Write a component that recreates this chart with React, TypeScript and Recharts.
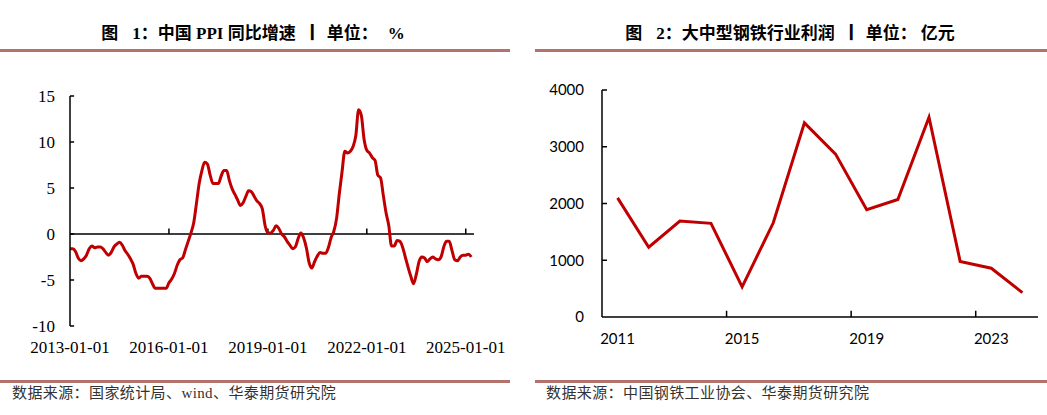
import { LineChart, Line, XAxis, YAxis, ReferenceLine } from "recharts";

// 图1: 中国 PPI 同比 (%), monthly from 2013-01
const PPI_START_YEAR = 2013;
const ppiValues = [
  // 2013
  -1.6, -1.6, -1.9, -2.6, -2.9, -2.7, -2.3, -1.6, -1.3, -1.5, -1.4, -1.4,
  // 2014
  -1.6, -2.0, -2.3, -2.0, -1.4, -1.1, -0.9, -1.2, -1.8, -2.2, -2.7, -3.3,
  // 2015
  -4.3, -4.8, -4.6, -4.6, -4.6, -4.8, -5.4, -5.9, -5.9, -5.9, -5.9, -5.9,
  // 2016
  -5.3, -4.9, -4.3, -3.4, -2.8, -2.6, -1.7, -0.8, 0.1, 1.2, 3.3, 5.5,
  // 2017
  6.9, 7.8, 7.6, 6.4, 5.5, 5.5, 5.5, 6.3, 6.9, 6.9, 5.8, 4.9,
  // 2018
  4.3, 3.7, 3.1, 3.4, 4.1, 4.7, 4.6, 4.1, 3.6, 3.3, 2.7, 0.9,
  // 2019
  0.1, 0.1, 0.4, 0.9, 0.6, 0.0, -0.3, -0.8, -1.2, -1.6, -1.4, -0.5,
  // 2020
  0.1, -0.4, -1.5, -3.1, -3.7, -3.0, -2.4, -2.0, -2.1, -2.1, -1.5, -0.4,
  // 2021
  0.3, 1.7, 4.4, 6.8, 9.0, 8.8, 9.0, 9.5, 10.7, 13.5, 12.9, 10.3,
  // 2022
  9.1, 8.8, 8.3, 8.0, 6.4, 6.1, 4.2, 2.3, 0.9, -1.3, -1.3, -0.7,
  // 2023
  -0.8, -1.4, -2.5, -3.6, -4.6, -5.4, -4.4, -3.0, -2.5, -2.6, -3.0, -2.7,
  // 2024
  -2.5, -2.7, -2.8, -2.5, -1.4, -0.8, -0.8, -1.8, -2.8, -2.9, -2.5, -2.3,
  // 2025
  -2.3, -2.2, -2.5,
];
const ppiTickMonths = [0, 36, 72, 108, 144];
const ppiYTicks = [-10, -5, 0, 5, 10, 15];

// 图2: 大中型钢铁行业利润 (亿元)
const steelYears = [
  2011, 2012, 2013, 2014, 2015, 2016, 2017, 2018, 2019, 2020, 2021, 2022, 2023,
  2024,
];
const steelProfit = [
  2100, 1230, 1690, 1650, 530, 1660, 3420, 2870, 1890, 2070, 3520, 980, 860,
  430,
];
const steelLabelYears = [2011, 2015, 2019, 2023];
const steelYTicks = [0, 1000, 2000, 3000, 4000];

const RED = "#C00000";
const RULE = "#B4726C";
const SERIF = '"Liberation Serif", "Noto Sans CJK SC", serif';

const monthLabel = (i: number) => {
  const y = PPI_START_YEAR + Math.floor(i / 12);
  const m = (i % 12) + 1;
  return `${y}-${m < 10 ? "0" + m : m}-01`;
};

const ppiData = ppiValues.map((v, i) => ({ i, v }));
const steelData = steelYears.map((year, i) => ({
  pos: i + 0.5,
  year,
  profit: steelProfit[i],
}));

const titleStyle = (left: number, width: number): React.CSSProperties => ({
  position: "absolute",
  left,
  width,
  top: 24,
  lineHeight: "20px",
  textAlign: "center",
  fontFamily: SERIF,
  fontWeight: "bold",
  fontSize: 17,
  color: "#000",
  whiteSpace: "nowrap",
});

const rule = (left: number, top: number, width: number): React.CSSProperties => ({
  position: "absolute",
  left,
  top,
  width,
  height: 3,
  background: RULE,
});

const sourceStyle = (left: number): React.CSSProperties => ({
  position: "absolute",
  left,
  top: 384,
  lineHeight: "18px",
  fontFamily: SERIF,
  fontSize: 15,
  letterSpacing: 0.4,
  color: "#333",
  whiteSpace: "nowrap",
});

const Title = ({ num, name, unit }: { num: string; name: string; unit: string }) => (
  <>
    <span style={{ marginRight: 14 }}>图</span>
    {num}：{name}
    <span style={{ margin: "0 6px 0 8px", fontWeight: 900 }}>丨</span>
    单位：
    <span style={{ marginLeft: unit === "%" ? 10 : 4 }}>{unit}</span>
  </>
);

export default function App() {
  return (
    <div
      style={{
        position: "absolute",
        left: 0,
        top: 0,
        width: 1047,
        height: 415,
        background: "#fff",
        overflow: "hidden",
      }}
    >
      {/* left panel */}
      <div style={titleStyle(0, 506)}>
        <Title num="1" name="中国 PPI 同比增速" unit="%" />
      </div>
      <div style={rule(0, 49, 510)} />
      <div style={{ position: "absolute", left: 0, top: 60 }}>
        <LineChart
          width={510}
          height={310}
          data={ppiData}
          margin={{ top: 36, right: 36, bottom: 14, left: 0 }}
        >
          <XAxis
            type="number"
            dataKey="i"
            domain={[0, 147]}
            ticks={ppiTickMonths}
            tickFormatter={monthLabel}
            axisLine={false}
            tickLine={false}
            tickSize={0}
            tickMargin={15}
            interval={0}
            tick={{ fill: "#000", fontSize: 17, fontFamily: SERIF }}
          />
          <YAxis
            width={70}
            domain={[-10, 15]}
            ticks={ppiYTicks}
            interval={0}
            axisLine={{ stroke: "#000", strokeWidth: 1.5 }}
            tickLine={false}
            tickSize={0}
            tickMargin={15}
            tick={{ fill: "#000", fontSize: 17, fontFamily: SERIF }}
          />
          <ReferenceLine y={0} stroke="#000" strokeWidth={1.5} />
          {ppiYTicks.map((t) => (
            <ReferenceLine
              key={`yt${t}`}
              segment={[
                { x: 0, y: t },
                { x: 1.5, y: t },
              ]}
              stroke="#000"
              strokeWidth={1.5}
            />
          ))}
          {ppiTickMonths.slice(1).map((m) => (
            <ReferenceLine
              key={`xt${m}`}
              segment={[
                { x: m, y: 0 },
                { x: m, y: 0.6 },
              ]}
              stroke="#000"
              strokeWidth={1.5}
            />
          ))}
          <Line
            type="monotone"
            dataKey="v"
            stroke={RED}
            strokeWidth={3}
            dot={false}
            isAnimationActive={false}
          />
        </LineChart>
      </div>
      <div style={rule(0, 380, 510)} />
      <div style={sourceStyle(12)}>数据来源：国家统计局、wind、华泰期货研究院</div>

      {/* right panel */}
      <div style={titleStyle(535, 510)}>
        <Title num="2" name="大中型钢铁行业利润" unit="亿元" />
      </div>
      <div style={rule(535, 49, 512)} />
      <div style={{ position: "absolute", left: 523, top: 60 }}>
        <LineChart
          width={524}
          height={310}
          data={steelData}
          margin={{ top: 30, right: 9, bottom: 23, left: 0 }}
        >
          <XAxis
            type="number"
            dataKey="pos"
            domain={[0, 14]}
            ticks={steelLabelYears.map((y) => steelYears.indexOf(y) + 0.5)}
            tickFormatter={(v: number) => String(steelYears[Math.round(v - 0.5)])}
            interval={0}
            axisLine={{ stroke: "#000", strokeWidth: 1.5 }}
            tickLine={false}
            tickSize={0}
            tickMargin={16}
            tick={{ fill: "#000", fontSize: 15, fontFamily: "Lato, sans-serif" }}
          />
          <YAxis
            width={79}
            domain={[0, 4000]}
            ticks={steelYTicks}
            interval={0}
            axisLine={{ stroke: "#000", strokeWidth: 1.5 }}
            tickLine={false}
            tickSize={0}
            tickMargin={18}
            tick={{ fill: "#000", fontSize: 15, fontFamily: "Lato, sans-serif" }}
          />
          {steelYTicks.slice(1).map((t) => (
            <ReferenceLine
              key={`syt${t}`}
              segment={[
                { x: 0, y: t },
                { x: 0.16, y: t },
              ]}
              stroke="#000"
              strokeWidth={1.5}
            />
          ))}
          {[4, 8, 12].map((b) => (
            <ReferenceLine
              key={`sxt${b}`}
              segment={[
                { x: b, y: 0 },
                { x: b, y: 110 },
              ]}
              stroke="#000"
              strokeWidth={1.5}
            />
          ))}
          <Line
            type="linear"
            dataKey="profit"
            stroke={RED}
            strokeWidth={3}
            dot={false}
            isAnimationActive={false}
          />
        </LineChart>
      </div>
      <div style={rule(535, 380, 512)} />
      <div style={sourceStyle(546)}>数据来源：中国钢铁工业协会、华泰期货研究院</div>
    </div>
  );
}
